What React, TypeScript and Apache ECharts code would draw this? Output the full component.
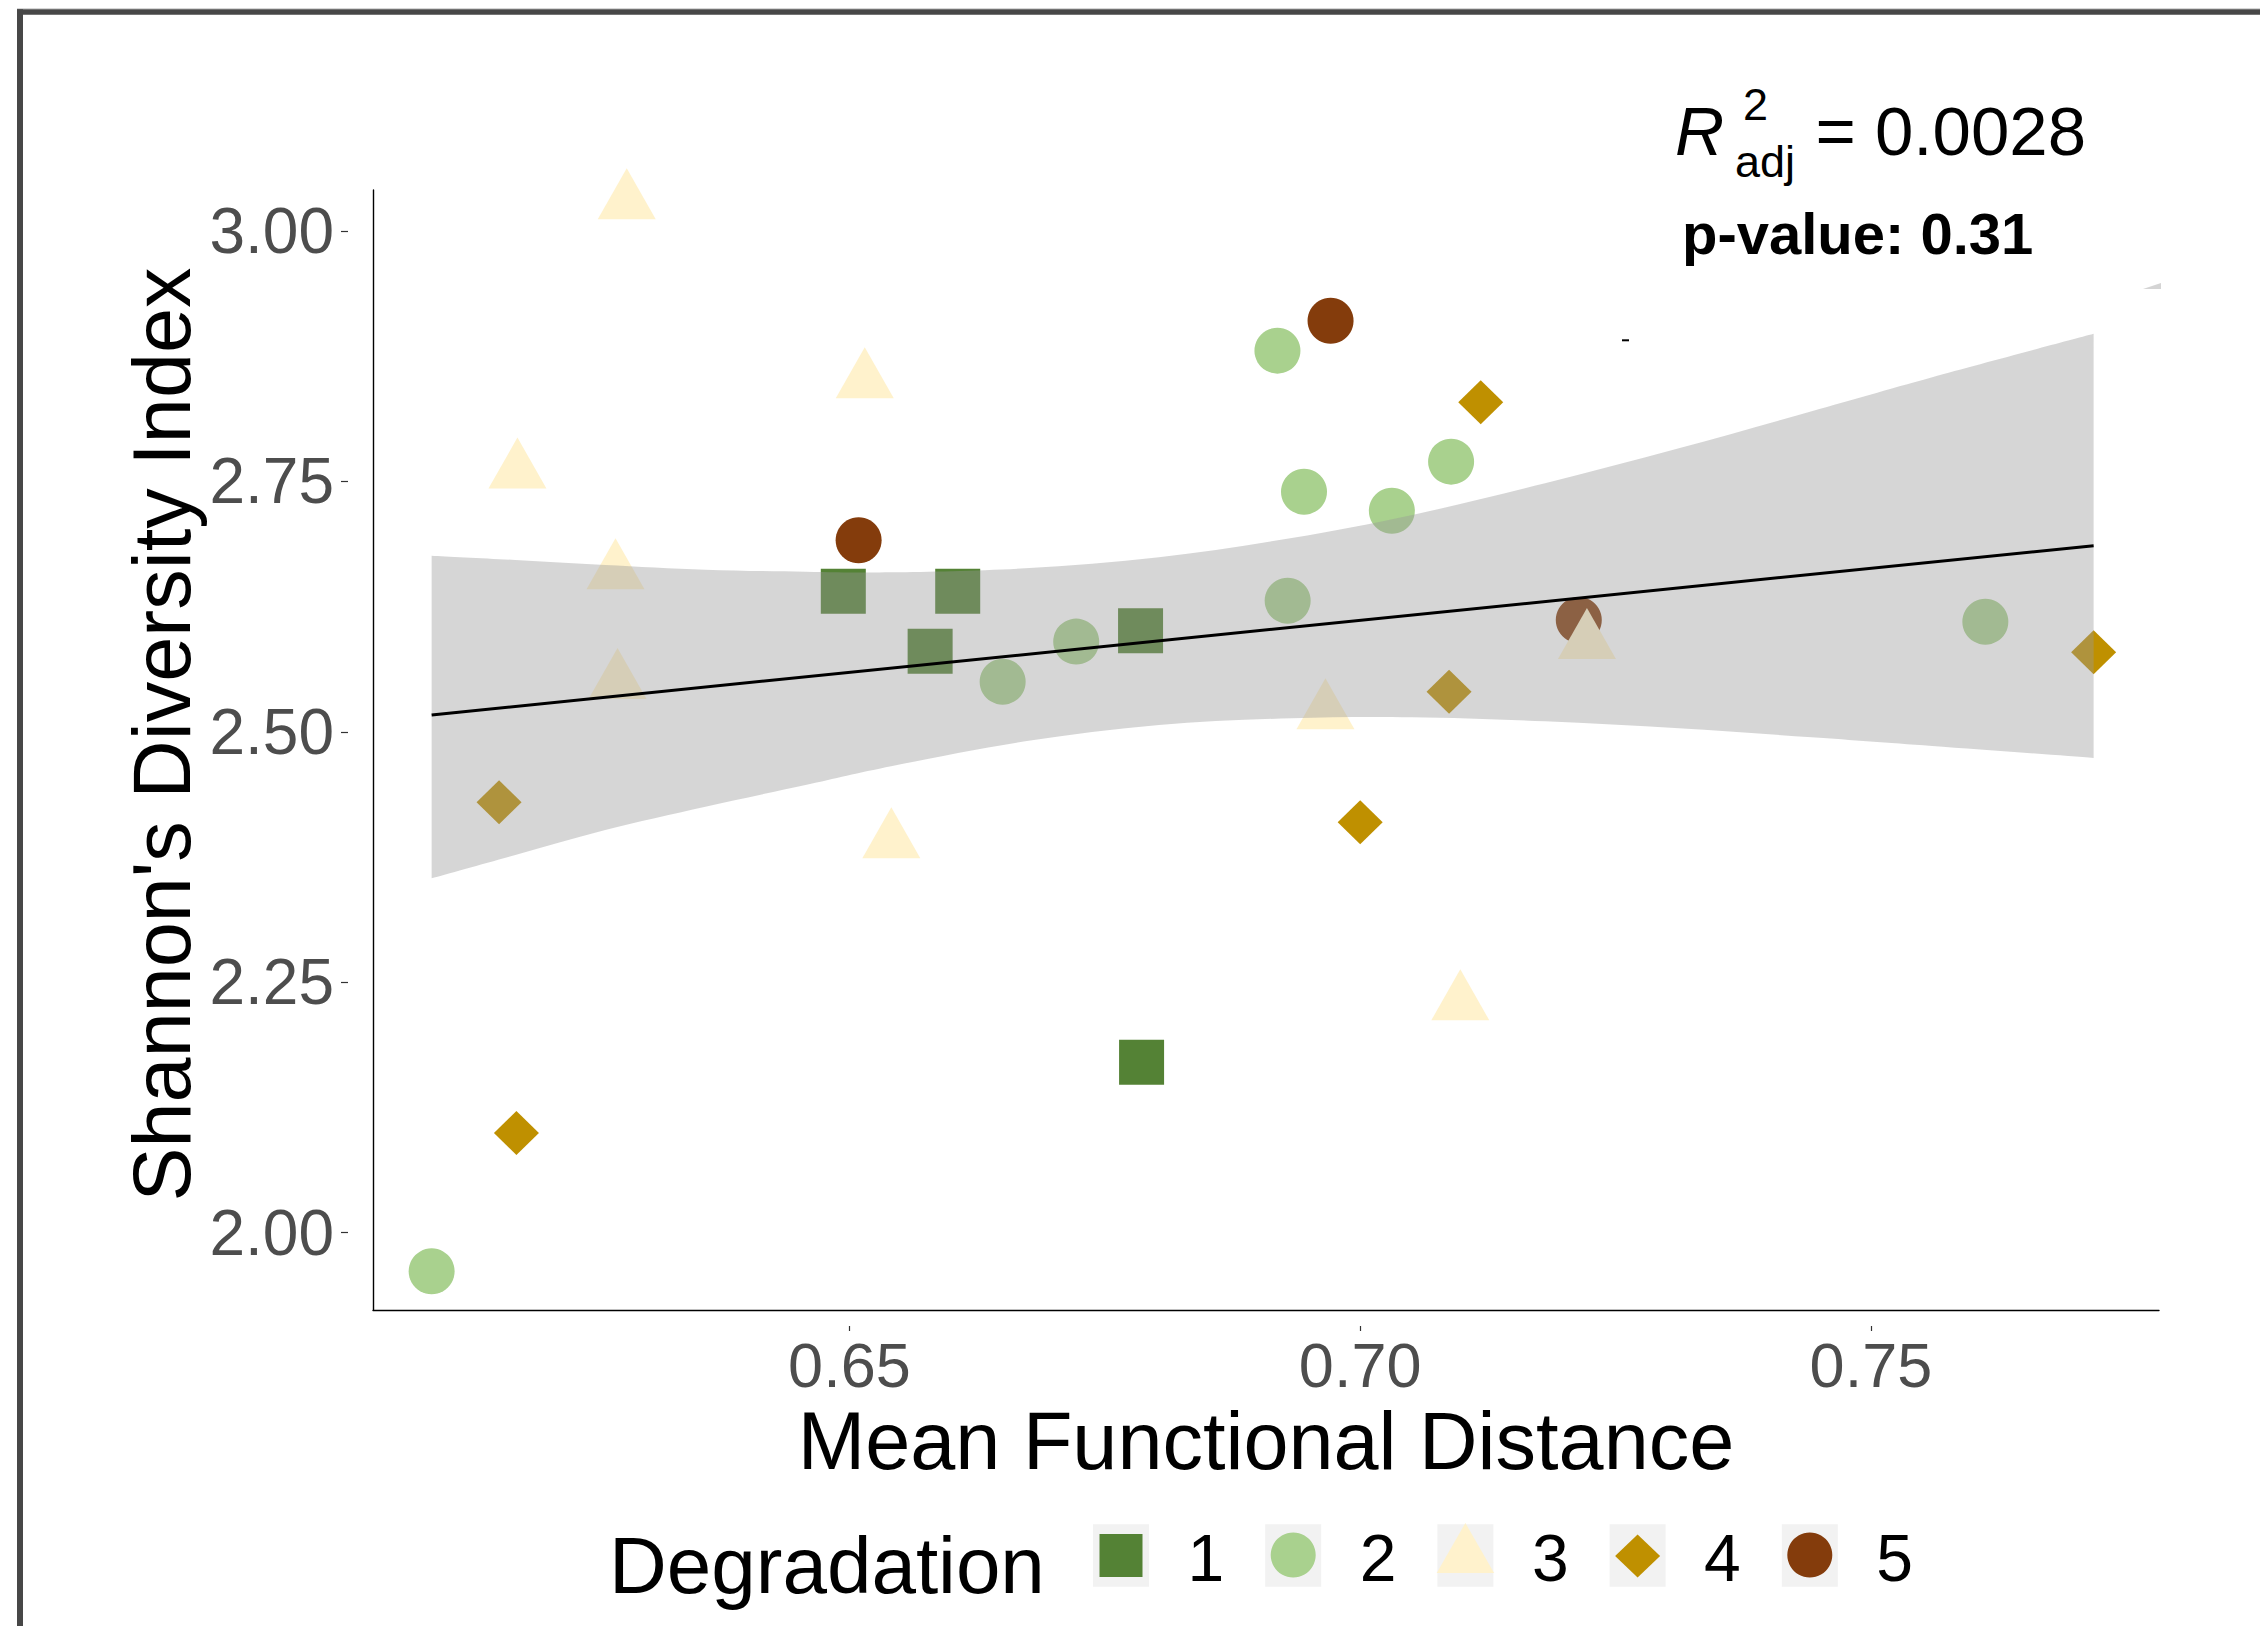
import React, { useEffect, useRef } from "react";
import * as echarts from "echarts";

const FONT = '"Liberation Sans", Arial, sans-serif';

// ---- categories & colours ----
const degradationLevels = ["1", "2", "3", "4", "5"];
const degradationColors = ["#548235", "#a9d18e", "#fff2cc", "#bf9000", "#843c0c"];

// ---- data (Mean Functional Distance, Shannon's Diversity Index) ----
const deg1X = [0.6494, 0.6606, 0.6579, 0.6785, 0.6786];
const deg1Y = [2.6403, 2.6403, 2.5804, 2.6009, 2.1701];
const deg2X = [0.6091, 0.665, 0.6722, 0.6919, 0.6945, 0.6929, 0.7031, 0.7089, 0.7612];
const deg2Y = [1.9613, 2.55, 2.59, 2.8805, 2.7397, 2.6309, 2.7207, 2.7697, 2.6099];
const deg3X = [0.6282, 0.6515, 0.6175, 0.6271, 0.6273, 0.6541, 0.6966, 0.7098, 0.7222];
const deg3Y = [3.0287, 2.85, 2.7598, 2.6592, 2.5497, 2.3907, 2.5196, 2.2289, 2.5896];
const deg4X = [0.6157, 0.6174, 0.7118, 0.7087, 0.7, 0.7718];
const deg4Y = [2.4296, 2.0994, 2.829, 2.54, 2.4096, 2.5794];
const deg5X = [0.6509, 0.6971, 0.7214];
const deg5Y = [2.6912, 2.9104, 2.6116];

// ---- linear fit and its confidence band ----
const fitX = [0.6091, 0.7718];
const fitY = [2.5168, 2.6858];
const bandX = [0.6091, 0.6173, 0.6261, 0.6359, 0.6457, 0.6542, 0.6672, 0.6803, 0.6933, 0.7051, 0.7181, 0.7312, 0.7442, 0.756, 0.7718];
const bandUpper = [2.6758, 2.6715, 2.6665, 2.6618, 2.6598, 2.6592, 2.6632, 2.6742, 2.6935, 2.7165, 2.748, 2.783, 2.82, 2.854, 2.8973];
const bandLower = [2.3537, 2.377, 2.402, 2.4252, 2.4469, 2.4659, 2.4905, 2.5068, 2.5135, 2.5145, 2.5105, 2.5035, 2.4945, 2.4858, 2.4739];

// ---- axes ----
const xTicks = [0.65, 0.7, 0.75];
const yTicks = [2.0, 2.25, 2.5, 2.75, 3.0];
const xRange = [0.60336, 0.7782];
const yRange = [1.9227, 3.0409];

const annotationR2 = "= 0.0028";
const annotationP = "p-value: 0.31";

const zip = (xs: number[], ys: number[]) => xs.map((x, i) => [x, ys[i]]);

// Catmull-Rom spline through pixel points, as SVG path commands (no leading M)
function splineSegs(p: number[][]): string {
  let d = "";
  for (let i = 0; i < p.length - 1; i++) {
    const p0 = p[Math.max(0, i - 1)];
    const p1 = p[i];
    const p2 = p[i + 1];
    const p3 = p[Math.min(p.length - 1, i + 2)];
    const c1x = p1[0] + (p2[0] - p0[0]) / 6;
    const c1y = p1[1] + (p2[1] - p0[1]) / 6;
    const c2x = p2[0] - (p3[0] - p1[0]) / 6;
    const c2y = p2[1] - (p3[1] - p1[1]) / 6;
    d += ` C ${c1x} ${c1y} ${c2x} ${c2y} ${p2[0]} ${p2[1]}`;
  }
  return d;
}

export default function App() {
  const ref = useRef<HTMLDivElement>(null);

  useEffect(() => {
    if (!ref.current) return;
    const chart = echarts.init(ref.current, null, { renderer: "svg" });

    const groups = [
      { xs: deg1X, ys: deg1Y, symbol: "rect", size: [45, 45], offset: [0, 0] },
      { xs: deg2X, ys: deg2Y, symbol: "circle", size: [46, 46], offset: [0, 0] },
      { xs: deg3X, ys: deg3Y, symbol: "triangle", size: [58, 51], offset: [0, -8.5] },
      { xs: deg4X, ys: deg4Y, symbol: "diamond", size: [45, 44], offset: [0, 0] },
      { xs: deg5X, ys: deg5Y, symbol: "circle", size: [46, 46], offset: [0, 0] },
    ];
    const drawOrder = [0, 1, 4, 3, 2];
    const scatterSeries = drawOrder.map((gi) => ({
      type: "scatter",
      name: degradationLevels[gi],
      xAxisIndex: 0,
      yAxisIndex: 0,
      data: zip(groups[gi].xs, groups[gi].ys),
      symbol: groups[gi].symbol,
      symbolSize: groups[gi].size,
      symbolOffset: groups[gi].offset,
      itemStyle: { color: degradationColors[gi], opacity: 1 },
      silent: true,
      z: 2,
    }));

    // legend drawn as graphic
    const legendEls: any[] = [];
    const keyX0 = 1093;
    const keyStep = 172.2;
    const keyY = 1524.3;
    const keyW = 56;
    const keyH = 62.4;
    degradationLevels.forEach((lab, i) => {
      const kx = keyX0 + i * keyStep;
      const cx = kx + keyW / 2;
      const cy = 1555.5;
      legendEls.push({ type: "rect", shape: { x: kx, y: keyY, width: keyW, height: keyH }, style: { fill: "#f2f2f2" }, silent: true });
      const col = degradationColors[i];
      if (i === 0) {
        legendEls.push({ type: "rect", shape: { x: cx - 21.5, y: cy - 21.5, width: 43, height: 43 }, style: { fill: col }, silent: true });
      } else if (i === 1 || i === 4) {
        legendEls.push({ type: "circle", shape: { cx, cy: cy - 0.5, r: 22.5 }, style: { fill: col }, silent: true });
      } else if (i === 2) {
        const c = cy + 0.8;
        legendEls.push({ type: "polygon", shape: { points: [[cx, c - 33.3], [cx + 28.7, c + 16.7], [cx - 28.7, c + 16.7]] }, style: { fill: col }, silent: true });
      } else {
        const c = cy + 0.5;
        legendEls.push({ type: "polygon", shape: { points: [[cx, c - 21.5], [cx + 22.5, c], [cx, c + 21.5], [cx - 22.5, c]] }, style: { fill: col }, silent: true });
      }
      legendEls.push({
        type: "text", x: kx + 94.5, y: 1581 - 0.3465 * 66,
        style: { text: lab, fontSize: 66, fontFamily: FONT, fill: "#000", align: "left", verticalAlign: "middle" },
        silent: true,
      });
    });

    const option: any = {
      animation: false,
      backgroundColor: "#ffffff",
      textStyle: { fontFamily: FONT },
      grid: { left: 373, top: 190, width: 1786, height: 1120, containLabel: false, outerBoundsMode: "none" },
      xAxis: [
        {
          type: "value", min: xRange[0], max: xRange[1], position: "bottom",
          axisLine: { show: true, onZero: false, lineStyle: { color: "#000", width: 1.4 } },
          axisTick: { show: false }, axisLabel: { show: false }, splitLine: { show: false },
          name: "Mean Functional Distance", nameLocation: "middle", nameGap: 90,
          nameTextStyle: { fontSize: 81, lineHeight: 81, color: "#000", fontFamily: FONT },
        },
        {
          type: "value", min: xRange[0], max: xRange[1], position: "bottom", offset: 16,
          axisLine: { show: false, onZero: false },
          axisTick: { show: true, length: 5, customValues: xTicks, lineStyle: { color: "#333333", width: 1.2 } },
          axisLabel: {
            show: true, customValues: xTicks, margin: 7, fontSize: 63, color: "#4d4d4d", fontFamily: FONT,
            formatter: (v: number) => v.toFixed(2),
          },
          splitLine: { show: false },
        },
      ],
      yAxis: [
        {
          type: "value", min: yRange[0], max: yRange[1], position: "left",
          axisLine: { show: true, onZero: false, lineStyle: { color: "#000", width: 1.4 } },
          axisTick: { show: false }, axisLabel: { show: false }, splitLine: { show: false },
          name: "Shannon's Diversity Index", nameLocation: "middle", nameGap: 171, nameRotate: 90,
          nameTextStyle: { fontSize: 81, lineHeight: 81, color: "#000", fontFamily: FONT, padding: [0, 0, 0, 31] },
        },
        {
          type: "value", min: yRange[0], max: yRange[1], position: "left", offset: 25,
          axisLine: { show: false, onZero: false },
          axisTick: { show: true, length: 7, customValues: yTicks, lineStyle: { color: "#333333", width: 1.2 } },
          axisLabel: {
            show: true, customValues: yTicks, margin: 14, fontSize: 64, color: "#4d4d4d", fontFamily: FONT,
            formatter: (v: number) => v.toFixed(2),
          },
          splitLine: { show: false },
        },
      ],
      series: [
        ...scatterSeries,
        {
          type: "custom",
          xAxisIndex: 0,
          yAxisIndex: 0,
          silent: true,
          z: 3,
          data: [[bandX[0], bandUpper[0]]],
          renderItem: (_params: any, api: any) => {
            const up = bandX.map((x, i) => api.coord([x, bandUpper[i]]));
            const lo = bandX.map((x, i) => api.coord([x, bandLower[i]])).reverse();
            const d =
              `M ${up[0][0]} ${up[0][1]}` +
              splineSegs(up) +
              ` L ${lo[0][0]} ${lo[0][1]}` +
              splineSegs(lo) +
              " Z";
            return { type: "path", shape: { pathData: d }, style: { fill: "rgba(153,153,153,0.4)" } };
          },
        },
        {
          type: "line",
          xAxisIndex: 0,
          yAxisIndex: 0,
          data: zip(fitX, fitY),
          symbol: "none",
          showSymbol: false,
          silent: true,
          lineStyle: { color: "#000", width: 3 },
          z: 4,
        },
      ],
      graphic: [
        // outer frame
        { type: "rect", shape: { x: 17, y: 8, width: 2243, height: 1.3 }, style: { fill: "#d6d6d6" }, silent: true },
        { type: "rect", shape: { x: 17, y: 9.3, width: 2243, height: 5.5 }, style: { fill: "#474747" }, silent: true },
        { type: "rect", shape: { x: 17, y: 9.3, width: 6, height: 1617 }, style: { fill: "#474747" }, silent: true },
        // small artefacts
        { type: "rect", shape: { x: 1622, y: 339.3, width: 7, height: 2 }, style: { fill: "#000" }, silent: true },
        { type: "polygon", shape: { points: [[2143, 289], [2161, 283], [2161, 289]] }, style: { fill: "#d4d4d4" }, silent: true },
        // annotation
        {
          type: "text", x: 1675, y: 155 - 0.3465 * 68,
          style: { text: "R", fontSize: 68, fontStyle: "italic", fontFamily: FONT, fill: "#000", align: "left", verticalAlign: "middle" },
          silent: true,
        },
        {
          type: "text", x: 1743, y: 120 - 0.3465 * 45,
          style: { text: "2", fontSize: 45, fontFamily: FONT, fill: "#000", align: "left", verticalAlign: "middle" },
          silent: true,
        },
        {
          type: "text", x: 1735, y: 176.7 - 0.3465 * 45,
          style: { text: "adj", fontSize: 45, fontFamily: FONT, fill: "#000", align: "left", verticalAlign: "middle" },
          silent: true,
        },
        {
          type: "text", x: 1815.5, y: 155 - 0.3465 * 69,
          style: { text: annotationR2, fontSize: 69, fontFamily: FONT, fill: "#000", align: "left", verticalAlign: "middle" },
          silent: true,
        },
        {
          type: "text", x: 1682, y: 253.3 - 0.3465 * 58,
          style: { text: annotationP, fontSize: 58, fontWeight: "bold", fontFamily: FONT, fill: "#000", align: "left", verticalAlign: "middle" },
          silent: true,
        },
        // legend title
        {
          type: "text", x: 609, y: 1593 - 0.3465 * 80,
          style: { text: "Degradation", fontSize: 80, fontFamily: FONT, fill: "#000", align: "left", verticalAlign: "middle" },
          silent: true,
        },
        ...legendEls,
      ],
    };

    chart.setOption(option);
    return () => chart.dispose();
  }, []);

  return (
    <div
      ref={ref}
      style={{ position: "absolute", left: 0, top: 0, width: 2260, height: 1626, background: "#fff" }}
    />
  );
}
